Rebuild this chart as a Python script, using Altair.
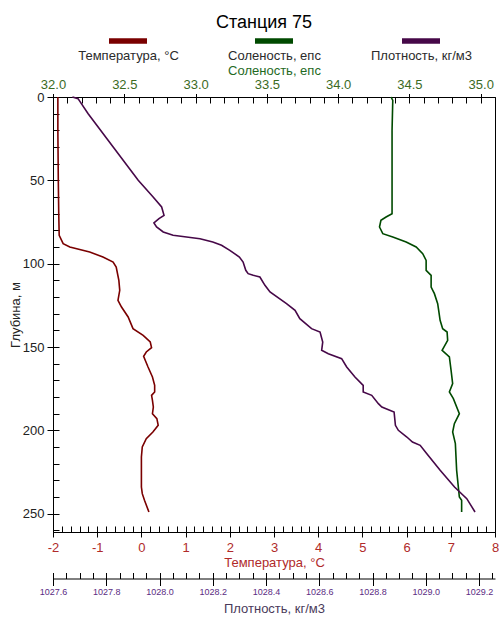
import altair as alt
import pandas as pd

FONT = "Liberation Sans"

series_names = ["Температура, °C", "Соленость, епс", "Плотность, кг/м3"]
series_colors = ["#7a0000", "#004a00", "#460848"]

temp_depth = [0, 20, 50, 70, 83, 88, 90, 93, 96, 99, 102, 110, 116, 122, 126, 132, 139, 143, 147,
              150.4, 153, 155.6, 162, 168, 173, 177, 179, 182, 186, 190, 193, 197, 201, 205, 210,
              216, 234, 238, 242, 249]
temp_vals = [-1.89, -1.89, -1.88, -1.87, -1.86, -1.77, -1.62, -1.17, -0.87, -0.64, -0.57, -0.51,
             -0.49, -0.53, -0.45, -0.30, -0.19, 0.04, 0.20, 0.23, 0.11, 0.05, 0.15, 0.25, 0.30,
             0.30, 0.23, 0.25, 0.27, 0.25, 0.35, 0.38, 0.26, 0.11, 0.02, 0.00, 0.00, 0.02, 0.07, 0.17]

sal_depth = [0, 2, 20, 70, 72, 74, 78, 82, 84, 87, 90, 94, 98, 104, 107, 114, 118, 124, 128, 134,
             139, 141, 146, 152, 156, 164, 172, 177, 181, 190, 196, 201, 208, 224, 240, 242, 249]
sal_vals = [34.371, 34.383, 34.378, 34.378, 34.336, 34.300, 34.290, 34.313, 34.383, 34.477, 34.547,
            34.593, 34.617, 34.617, 34.652, 34.652, 34.675, 34.698, 34.705, 34.715, 34.733, 34.764,
            34.768, 34.729, 34.780, 34.792, 34.803, 34.780, 34.808, 34.850, 34.815, 34.803, 34.822,
            34.831, 34.850, 34.866, 34.866]

dens_depth = [0, 1, 10, 30, 50, 60, 66, 71, 73, 75.6, 78, 81, 83, 85, 87, 89, 92, 96, 99, 104, 106,
              107, 108, 113, 117, 124, 128, 133, 139, 141, 147, 152, 154, 157, 162, 168, 173, 177,
              179, 184, 186, 189, 197, 200, 204, 207, 209, 214, 224, 234, 241, 249]
dens_vals = [1027.673, 1027.694, 1027.732, 1027.826, 1027.920, 1027.976, 1028.008, 1028.017,
             1027.998, 1027.979, 1027.989, 1028.014, 1028.051, 1028.152, 1028.200, 1028.233,
             1028.264, 1028.300, 1028.314, 1028.324, 1028.333, 1028.352, 1028.377, 1028.396,
             1028.415, 1028.477, 1028.509, 1028.527, 1028.571, 1028.603, 1028.613, 1028.609,
             1028.634, 1028.684, 1028.703, 1028.734, 1028.765, 1028.765, 1028.797, 1028.822,
             1028.835, 1028.881, 1028.886, 1028.897, 1028.929, 1028.950, 1028.979, 1029.004,
             1029.054, 1029.108, 1029.154, 1029.185]

depth_major = [0, 50, 100, 150, 200, 250]
depth_minor = [round(10 * k) for k in range(27)]
temp_major = [-2, -1, 0, 1, 2, 3, 4, 5, 6, 7, 8]
temp_minor = [round(-2 + 0.2 * k, 2) for k in range(51)]
sal_major = [32.0, 32.5, 33.0, 33.5, 34.0, 34.5, 35.0]
sal_minor = [round(32 + 0.1 * k, 2) for k in range(32)]
dens_major = [1027.6, 1027.8, 1028.0, 1028.2, 1028.4, 1028.6, 1028.8, 1029.0, 1029.2]
dens_minor = [round(1027.6 + 0.05 * k, 2) for k in range(34)]

temp_color_lbl = "#b02a2a"
sal_color_lbl = "#3b6b1f"
dens_color_lbl = "#5b2c83"


def frame(depths, vals, name):
    return pd.DataFrame({"depth": depths, "value": vals, "series": name})


temp_df = frame(temp_depth, temp_vals, series_names[0])
sal_df = frame(sal_depth, sal_vals, series_names[1])
dens_df = frame(dens_depth, dens_vals, series_names[2])

depth_scale = alt.Scale(domain=[0, 261], reverse=True, nice=False, zero=False)
temp_scale = alt.Scale(domain=[-2, 8], nice=False, zero=False)
sal_scale = alt.Scale(domain=[32, 35.1], nice=False, zero=False)
dens_scale = alt.Scale(domain=[1027.6, 1029.26], nice=False, zero=False)

legend = alt.Legend(
    title=None, orient="none", legendX=34, legendY=-60, direction="horizontal",
    symbolType="M-0.65,-0.9H3.15", symbolSize=400, symbolStrokeWidth=5.5, symbolOffset=15.5,
    labelAlign="center", labelBaseline="top", labelOffset=0,
    labelFont=FONT, labelFontSize=13, labelColor="#2b2b2b", columnPadding=49,
    labelLimit=0, padding=0,
)
color_enc = alt.Color("series:N", scale=alt.Scale(domain=series_names, range=series_colors),
                      legend=legend)

temp_line = alt.Chart(temp_df).mark_line(strokeWidth=1.6).encode(
    x=alt.X("value:Q", scale=temp_scale, title="Температура, °C",
            axis=alt.Axis(orient="bottom", values=temp_major, tickSize=5, labelPadding=4,
                          labelColor=temp_color_lbl, titleColor=temp_color_lbl, titlePadding=2,
                          labelFlush=False, labelExpr="'' + datum.value")),
    y=alt.Y("depth:Q", scale=depth_scale, title="Глубина, м",
            axis=alt.Axis(orient="left", values=depth_major, tickSize=6, labelPadding=3,
                          labelColor="#222222", titleColor="#222222", titlePadding=0)),
    order="depth:Q",
    color=color_enc,
)

temp_ticks = alt.Chart(temp_df).mark_line(opacity=0).encode(
    x=alt.X("value:Q", scale=temp_scale, title=None,
            axis=alt.Axis(orient="bottom", offset=-6, values=temp_minor, tickSize=6,
                          labels=False, domain=False)),
    y=alt.Y("depth:Q", scale=depth_scale, title=None,
            axis=alt.Axis(orient="left", offset=-6, values=depth_minor, tickSize=6,
                          labels=False, domain=False)),
    order="depth:Q",
)

sal_line = alt.Chart(sal_df).mark_line(strokeWidth=1.6).encode(
    x=alt.X("value:Q", scale=sal_scale, title="Соленость, епс",
            axis=alt.Axis(orient="top", values=sal_major, format=".1f", tickSize=3.5,
                          labelPadding=2, labelColor=sal_color_lbl, titleColor="#1f6a1f",
                          titlePadding=1, labelFlush=False)),
    y=alt.Y("depth:Q", scale=depth_scale, axis=None),
    order="depth:Q",
    color=color_enc,
)

sal_ticks = alt.Chart(sal_df).mark_line(opacity=0).encode(
    x=alt.X("value:Q", scale=sal_scale, title=None,
            axis=alt.Axis(orient="top", offset=-6, values=sal_minor, tickSize=6,
                          labels=False, domain=False)),
    y=alt.Y("depth:Q", scale=depth_scale, axis=None),
    order="depth:Q",
)

dens_line = alt.Chart(dens_df).mark_line(strokeWidth=1.6).encode(
    x=alt.X("value:Q", scale=dens_scale, title="Плотность, кг/м3",
            axis=alt.Axis(orient="bottom", offset=46.5, values=dens_major, format=".1f",
                          tickSize=7, labelPadding=1.5, labelFontSize=9,
                          labelColor=dens_color_lbl, titleColor="#4a3a5a", titlePadding=6,
                          labelFlush=False)),
    y=alt.Y("depth:Q", scale=depth_scale, axis=None),
    order="depth:Q",
    color=color_enc,
)

dens_ticks = alt.Chart(dens_df).mark_line(opacity=0).encode(
    x=alt.X("value:Q", scale=dens_scale, title=None,
            axis=alt.Axis(orient="bottom", offset=40.5, values=dens_minor, tickSize=6,
                          labels=False, domain=False)),
    y=alt.Y("depth:Q", scale=depth_scale, axis=None),
    order="depth:Q",
)

chart = alt.layer(
    temp_line, temp_ticks, sal_line, sal_ticks, dens_line, dens_ticks
).resolve_scale(
    x="independent", y="independent"
).properties(
    width=442,
    height=435,
    autosize=alt.AutoSizeParams(type="none"),
    padding={"left": 53, "top": 97, "right": 4, "bottom": 88},
    title=alt.TitleParams("Станция 75", fontSize=18, font=FONT, fontWeight="normal",
                          color="black", anchor="middle", frame="group", dx=-10, offset=5),
).configure_view(
    stroke="black", strokeWidth=1
).configure_axis(
    grid=False, domainColor="black", tickColor="black", labelFont=FONT, titleFont=FONT,
    labelFontSize=13, titleFontSize=13, titleFontWeight="normal",
)

chart.save("out.html", embed_options={"renderer": "svg", "actions": False})
